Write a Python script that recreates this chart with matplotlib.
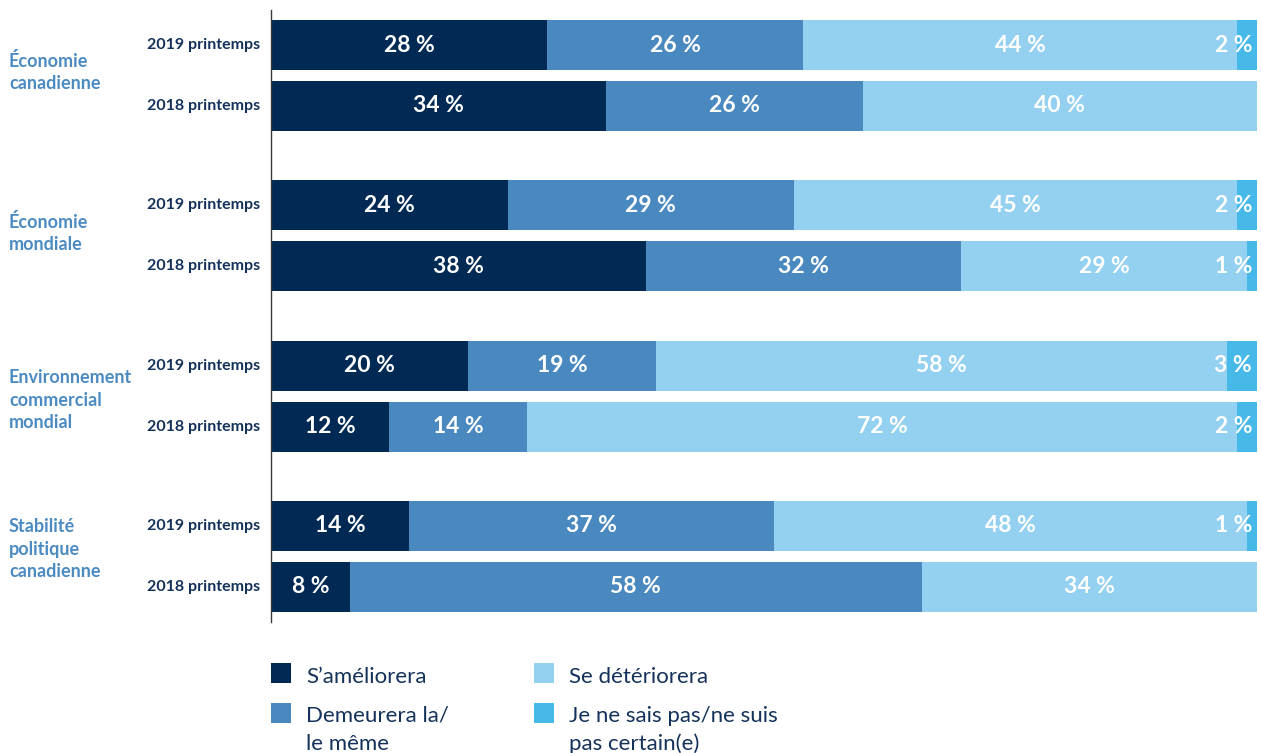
import matplotlib
matplotlib.use("Agg")
import matplotlib.pyplot as plt
from matplotlib.patches import Rectangle

# Survey data (percent of respondents)
groups = ["Économie\ncanadienne", "Économie\nmondiale",
          "Environnement\ncommercial\nmondial", "Stabilité\npolitique\ncanadienne"]
periods = ["2019 printemps", "2018 printemps"]
series_names = ["S\u2019améliorera", "Demeurera la/\nle même",
                "Se détériorera", "Je ne sais pas/ne suis\npas certain(e)"]

ameliorera = [28, 34, 24, 38, 20, 12, 14, 8]
demeurera = [26, 26, 29, 32, 19, 14, 37, 58]
deteriorera = [44, 40, 45, 29, 58, 72, 48, 34]
ne_sais_pas = [2, 0, 2, 1, 3, 2, 1, 0]

colors = ["#002a54", "#4a89bf", "#94d1f1", "#46b9e9"]
navy = "#14325a"
group_color = "#4b8bc2"

W, H = 1261, 753
fig = plt.figure(figsize=(W / 100, H / 100), dpi=100)
ax_top, ax_bot = 10, 622
ax = fig.add_axes([271 / W, 1 - ax_bot / H, (1257 - 271) / W, (ax_bot - ax_top) / H])
ax.set_xlim(0, 100)
ax.set_ylim(ax_bot, ax_top)

# bar centres in pixel-like units from the top of the figure
bar_h = 50
ys = []
for g in range(len(groups)):
    for p in range(len(periods)):
        ys.append(45 + g * 160.33 + p * 61)

series = [ameliorera, demeurera, deteriorera, ne_sais_pas]
lefts = [0] * len(ys)
for s, vals in enumerate(series):
    ax.barh(ys, vals, left=lefts, height=bar_h, color=colors[s], linewidth=0)
    for i, v in enumerate(vals):
        if v == 0:
            continue
        label = f"{v} %"
        if v <= 3:
            ax.text(99.5, ys[i], label, ha="right", va="center", color="white",
                    fontsize=16.5, fontweight="bold", family="Lato")
        else:
            ax.text(lefts[i] + v / 2, ys[i], label, ha="center", va="center",
                    color="white", fontsize=16.5, fontweight="bold", family="Lato")
    lefts = [l + v for l, v in zip(lefts, vals)]

for side in ["top", "right", "bottom"]:
    ax.spines[side].set_visible(False)
ax.spines["left"].set_color("#3a3a3a")
ax.spines["left"].set_linewidth(1.0)
ax.set_xticks([])
ax.set_yticks([])

# period labels next to each bar
for i, y in enumerate(ys):
    fig.text(260 / W, 1 - y / H, periods[i % 2], ha="right", va="center",
             fontsize=11.5, fontweight="bold", color=navy, family="Lato")

# group labels (vertical centre of each text block, pixels)
group_label_y = [72, 233, 400, 549]
for name, yc in zip(groups, group_label_y):
    fig.text(9 / W, 1 - yc / H, name, ha="left", va="center", fontsize=13,
             fontweight="bold", color=group_color, family="Lato", linespacing=1.4)

# legend: swatch top-left corner and first text baseline (pixels)
legend_pos = [(271, 663), (271, 703), (534, 663), (534, 703)]
baselines = [683, 722, 683, 722]
for k, ((x, y), b) in enumerate(zip(legend_pos, baselines)):
    fig.patches.append(Rectangle((x / W, 1 - (y + 20) / H), 20 / W, 20 / H,
                                 transform=fig.transFigure, color=colors[k], linewidth=0))
    for j, line in enumerate(series_names[k].split("\n")):
        fig.text((x + 35) / W, 1 - (b + 28 * j) / H, line, ha="left", va="baseline",
                 fontsize=16, color=navy, family="Lato")

fig.savefig("out.png", dpi=100)
